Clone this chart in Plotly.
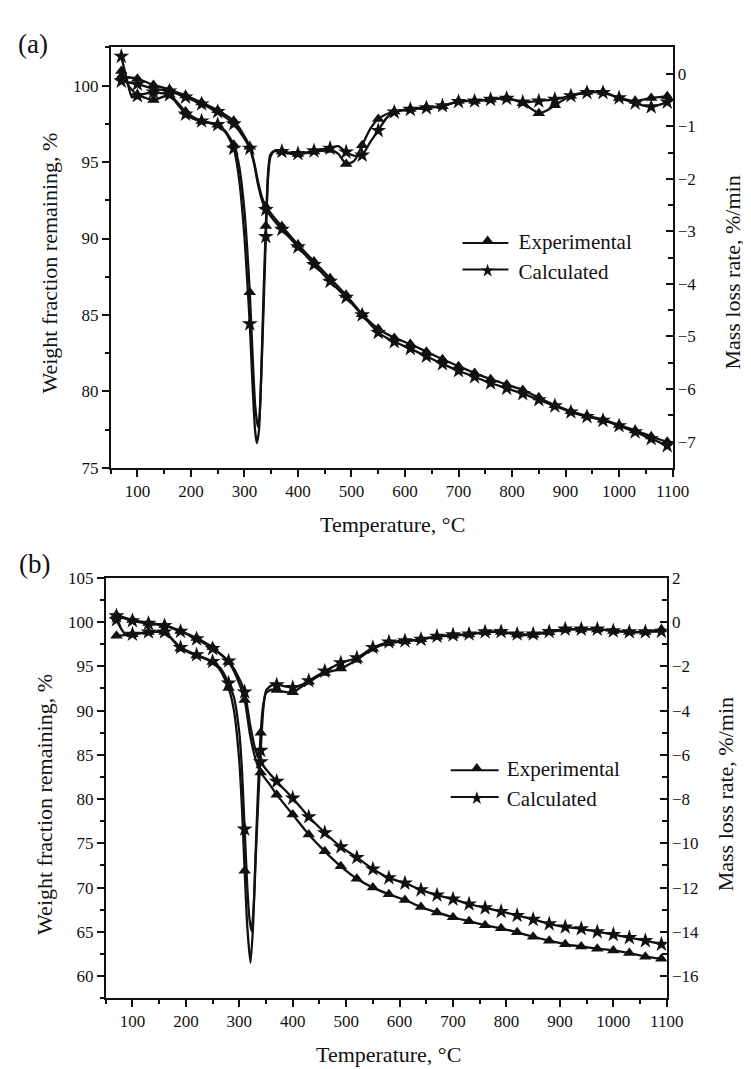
import plotly.graph_objects as go

W, H = 751, 1069
INK = "#111111"
FONT = "Liberation Serif"

# ---------------- data: panel (a) ----------------
MARKER_T = [70, 100, 130, 160, 190, 220, 250, 280, 310, 340, 370, 400, 430, 460, 490,
            520, 550, 580, 610, 640, 670, 700, 730, 760, 790, 820, 850, 880, 910, 940,
            970, 1000, 1030, 1060, 1090]

a_tg_exp_T = [70, 100, 130, 160, 190, 220, 250, 280, 295, 310, 318, 325, 332, 340, 355, 370,
              400, 430, 460, 490, 520, 550, 580, 610, 640, 670, 700, 730, 760, 790, 820,
              850, 880, 910, 940, 970, 1000, 1030, 1060, 1090]
a_tg_exp = [100.6, 100.45, 100.05, 99.75, 99.35, 98.9, 98.4, 97.7, 97.0, 96.0, 95.0, 93.8, 92.8,
            92.1, 91.4, 90.8, 89.6, 88.5, 87.4, 86.3, 85.05, 84.1, 83.5, 83.1, 82.6, 82.1,
            81.65, 81.2, 80.8, 80.45, 80.1, 79.6, 79.1, 78.7, 78.4, 78.15, 77.8, 77.45,
            77.05, 76.7]

a_tg_cal_T = a_tg_exp_T
a_tg_cal = [100.3, 100.1, 99.8, 99.65, 99.25, 98.8, 98.3, 97.5, 96.8, 95.9, 94.9, 93.6, 92.6,
            91.9, 91.2, 90.6, 89.45, 88.3, 87.2, 86.15, 85.0, 83.85, 83.25, 82.8, 82.3, 81.8,
            81.35, 80.95, 80.55, 80.2, 79.85, 79.45, 79.05, 78.65, 78.35, 78.1, 77.75, 77.35,
            76.9, 76.45]

a_dtg_exp_T = [70, 85, 100, 115, 130, 145, 160, 175, 190, 205, 220, 235, 250, 265, 280, 290,
               300, 305, 310, 315, 320, 325, 328, 332, 336, 340, 344, 348, 355, 370, 385, 400,
               415, 430, 445, 460, 475, 490, 505, 520, 535, 550, 565, 580, 610, 640, 670, 700,
               730, 760, 790, 820, 835, 850, 865, 880, 910, 940, 970, 1000, 1030, 1060, 1090]
a_dtg_exp = [0.05, -0.25, -0.40, -0.46, -0.50, -0.45, -0.40, -0.55, -0.72, -0.83, -0.90, -0.93,
             -0.97, -1.10, -1.35, -1.75, -2.6, -3.3, -4.16, -5.3, -6.3, -6.72, -6.55, -5.5,
             -4.1, -2.9, -1.9, -1.55, -1.47, -1.48, -1.52, -1.53, -1.51, -1.48, -1.47, -1.45,
             -1.52, -1.72, -1.66, -1.36, -1.05, -0.86, -0.77, -0.72, -0.67, -0.64, -0.62,
             -0.52, -0.52, -0.49, -0.46, -0.56, -0.66, -0.75, -0.70, -0.60, -0.42, -0.35,
             -0.35, -0.46, -0.52, -0.46, -0.43]

a_dtg_cal_T = [70, 80, 90, 100, 115, 130, 145, 160, 175, 190, 205, 220, 235, 250, 265, 280, 290,
               300, 305, 310, 315, 320, 323, 327, 331, 336, 340, 344, 348, 355, 370, 385, 400,
               415, 430, 445, 460, 475, 490, 505, 520, 535, 550, 565, 580, 610, 640, 670, 700,
               730, 760, 790, 820, 850, 880, 910, 940, 970, 1000, 1030, 1060, 1090]
a_dtg_cal = [0.33, -0.10, -0.45, -0.42, -0.38, -0.35, -0.37, -0.40, -0.58, -0.77, -0.86, -0.90,
             -0.94, -0.97, -1.12, -1.42, -2.0, -3.1, -3.9, -4.76, -5.9, -6.8, -7.03, -6.8,
             -5.9, -4.4, -3.1, -2.0, -1.6, -1.48, -1.48, -1.50, -1.52, -1.50, -1.47, -1.44,
             -1.42, -1.38, -1.49, -1.56, -1.55, -1.30, -1.08, -0.85, -0.73, -0.68, -0.65,
             -0.61, -0.53, -0.52, -0.49, -0.47, -0.54, -0.52, -0.49, -0.42, -0.36, -0.36,
             -0.46, -0.56, -0.63, -0.54]

# ---------------- data: panel (b) ----------------
b_tg_exp_T = [70, 100, 130, 160, 190, 220, 250, 280, 295, 310, 320, 330, 340, 355, 370, 400,
              430, 460, 490, 520, 550, 580, 610, 640, 670, 700, 730, 760, 790, 820, 850, 880,
              910, 940, 970, 1000, 1030, 1060, 1090]
b_tg_exp = [100.8, 100.25, 99.9, 99.65, 99.0, 98.2, 97.15, 95.5, 93.8, 91.2, 87.3, 84.6, 83.0,
            81.8, 80.5, 78.25, 76.0, 74.1, 72.4, 71.0, 70.0, 69.25, 68.6, 67.8, 67.2, 66.65,
            66.2, 65.75, 65.4, 64.95, 64.45, 64.0, 63.6, 63.35, 63.1, 62.9, 62.6, 62.2, 61.95]

b_tg_cal_T = b_tg_exp_T
b_tg_cal = [100.7, 100.15, 99.85, 99.6, 98.95, 98.1, 97.0, 95.6, 94.2, 92.1, 88.5, 85.6, 84.2,
            83.0, 82.0, 80.1, 78.0, 76.2, 74.6, 73.4, 72.1, 71.1, 70.5, 69.75, 69.15, 68.7,
            68.15, 67.7, 67.3, 66.85, 66.4, 65.9, 65.55, 65.35, 65.0, 64.7, 64.35, 64.0, 63.6]

b_dtg_exp_T = [70, 100, 130, 160, 190, 220, 250, 265, 280, 290, 300, 305, 310, 315, 321, 326,
               330, 335, 340, 345, 350, 360, 370, 385, 400, 415, 430, 460, 490, 520, 550, 580,
               610, 640, 670, 700, 730, 760, 790, 820, 850, 880, 910, 940, 970, 1000, 1030,
               1060, 1090]
b_dtg_exp = [-0.62, -0.55, -0.45, -0.45, -1.19, -1.51, -1.80, -2.2, -2.98, -4.0, -6.3, -8.4,
             -11.24, -13.8, -15.4, -13.6, -10.8, -7.6, -5.0, -3.7, -3.2, -3.05, -3.07, -3.15,
             -3.17, -2.95, -2.7, -2.3, -2.1, -1.7, -1.21, -0.95, -0.86, -0.78, -0.66, -0.60,
             -0.56, -0.46, -0.45, -0.56, -0.58, -0.46, -0.34, -0.33, -0.33, -0.40, -0.45,
             -0.45, -0.33]

b_dtg_cal_T = [70, 85, 100, 130, 160, 190, 220, 250, 265, 280, 290, 300, 305, 310, 315, 319,
               323, 327, 331, 335, 340, 345, 350, 360, 370, 385, 400, 415, 430, 460, 490, 520,
               550, 580, 610, 640, 670, 700, 730, 760, 790, 820, 850, 880, 910, 940, 970, 1000,
               1030, 1060, 1090]
b_dtg_cal = [0.1, -0.5, -0.55, -0.45, -0.45, -1.15, -1.48, -1.78, -2.1, -2.76, -3.4, -5.0, -6.7,
             -9.36, -12.0, -13.4, -13.96, -12.8, -10.5, -8.3, -5.8, -3.9, -3.1, -2.86, -2.84,
             -2.9, -2.96, -2.85, -2.65, -2.22, -1.84, -1.62, -1.15, -0.9, -0.85, -0.78, -0.64,
             -0.58, -0.54, -0.44, -0.43, -0.54, -0.54, -0.43, -0.32, -0.32, -0.32, -0.40,
             -0.44, -0.44, -0.42]

X_TICKS = [100, 200, 300, 400, 500, 600, 700, 800, 900, 1000, 1100]
LEGEND_NAMES = ["Experimental", "Calculated"]
SYMBOLS = ["triangle-up", "star"]
SIZES = [11, 12]


def px_x(p):
    return p / W


def px_y(p):
    return 1 - p / H


fig = go.Figure()


def add_series(T, V, xa, ya, k):
    fig.add_trace(go.Scatter(x=T, y=V, mode="lines", xaxis=xa, yaxis=ya,
                             line=dict(color=INK, width=2.3, shape="spline", smoothing=0.6),
                             showlegend=False, hoverinfo="skip"))
    mt = [t for t in T if t in MARKER_T]
    mv = [v for t, v in zip(T, V) if t in MARKER_T]
    fig.add_trace(go.Scatter(x=mt, y=mv, mode="markers", xaxis=xa, yaxis=ya,
                             marker=dict(symbol=SYMBOLS[k], size=SIZES[k], color=INK,
                                         line=dict(width=0)),
                             showlegend=False, hoverinfo="skip"))


add_series(a_tg_exp_T, a_tg_exp, "x", "y", 0)
add_series(a_tg_cal_T, a_tg_cal, "x", "y", 1)
add_series(a_dtg_exp_T, a_dtg_exp, "x", "y2", 0)
add_series(a_dtg_cal_T, a_dtg_cal, "x", "y2", 1)
add_series(b_tg_exp_T, b_tg_exp, "x2", "y3", 0)
add_series(b_tg_cal_T, b_tg_cal, "x2", "y3", 1)
add_series(b_dtg_exp_T, b_dtg_exp, "x2", "y4", 0)
add_series(b_dtg_cal_T, b_dtg_cal, "x2", "y4", 1)

for lg, xa, ya in [("legend", "x", "y"), ("legend2", "x2", "y3")]:
    for k in range(2):
        fig.add_trace(go.Scatter(x=[None], y=[None], mode="markers", name=LEGEND_NAMES[k],
                                 xaxis=xa, yaxis=ya, legend=lg,
                                 marker=dict(symbol=SYMBOLS[k], size=10, color=INK)))

tickfont = dict(family=FONT, size=17, color=INK)
common_x = dict(range=[50, 1100], tickvals=X_TICKS, ticks="outside", ticklen=7, tickwidth=1.5,
                tickcolor=INK, showline=True, linecolor=INK, linewidth=1.5, mirror=True,
                showgrid=False, zeroline=False, tickfont=tickfont,
                minor=dict(ticks="outside", ticklen=4, tickwidth=1.5, tickcolor=INK, dtick=50,
                           tick0=50, showgrid=False))


def yl(rng, dt, mdt):
    return dict(range=rng, dtick=dt, tick0=0, ticks="outside", ticklen=7, tickwidth=1.5,
                tickcolor=INK, showline=True, linecolor=INK, linewidth=1.5, showgrid=False,
                zeroline=False, tickfont=tickfont,
                minor=dict(ticks="outside", ticklen=4, tickwidth=1.5, tickcolor=INK,
                           dtick=mdt, showgrid=False))


def yr(rng, dt, mdt, ov, anch):
    return dict(range=rng, dtick=dt, tick0=0, ticks="inside", ticklen=7, tickwidth=1.5,
                tickcolor=INK, showline=True, linecolor=INK, linewidth=1.5, showgrid=False,
                zeroline=False, tickfont=tickfont, overlaying=ov, side="right", anchor=anch,
                minor=dict(ticks="inside", ticklen=5, tickwidth=1.5, tickcolor=INK,
                           dtick=mdt, showgrid=False))


top_dom_x = [px_x(105), px_x(680)]
top_dom_y = [px_y(459), px_y(31)]
bot_dom_x = [px_x(100), px_x(674)]
bot_dom_y = [px_y(999), px_y(571)]

legfont = dict(family=FONT, size=21, color=INK)
fig.update_layout(
    width=W, height=H, autosize=False,
    margin=dict(l=0, r=0, t=0, b=0),
    paper_bgcolor="white", plot_bgcolor="white",
    font=dict(family=FONT, color=INK),
    xaxis=dict(domain=top_dom_x, anchor="y", **common_x),
    yaxis=dict(domain=top_dom_y, anchor="x", **yl([75, 102.5], 5, 2.5)),
    yaxis2=yr([-7.5, 0.5], 1, 0.5, "y", "x"),
    xaxis2=dict(domain=bot_dom_x, anchor="y3", **common_x),
    yaxis3=dict(domain=bot_dom_y, anchor="x2", **yl([57.5, 105], 5, 2.5)),
    yaxis4=yr([-17, 2], 2, 1, "y3", "x2"),
    legend=dict(x=px_x(459), y=px_y(207), xanchor="left", yanchor="top",
                bgcolor="rgba(0,0,0,0)", font=legfont, itemwidth=52, tracegroupgap=0),
    legend2=dict(x=px_x(449), y=px_y(744), xanchor="left", yanchor="top",
                 bgcolor="rgba(0,0,0,0)", font=legfont, itemwidth=50, tracegroupgap=0),
    showlegend=True,
)

# legend key lines (longer than plotly's fixed legend stub)
shapes = []
for (x0, x1, ys) in [(465, 512, [230, 257]), (453, 502, [767, 794])]:
    for yy in ys:
        shapes.append(dict(type="line", xref="paper", yref="paper",
                           x0=px_x(x0), x1=px_x(x1), y0=px_y(yy), y1=px_y(yy),
                           line=dict(color=INK, width=2)))
fig.update_layout(shapes=shapes)

ann = []


def add_text(text, x, y, size, angle=0):
    ann.append(dict(text=text, x=px_x(x), y=px_y(y), xref="paper", yref="paper",
                    showarrow=False, xanchor="center", yanchor="middle", textangle=angle,
                    font=dict(family=FONT, size=size, color=INK)))


add_text("(a)", 26, 27, 27)
add_text("(b)", 27, 557, 27)
add_text("Temperature, °C", 393, 517, 22)
add_text("Temperature, °C", 389, 1056, 22)
add_text("Weight fraction remaining, %", 43, 251, 22, -90)
add_text("Weight fraction remaining, %", 38, 802, 22, -90)
add_text("Mass loss rate, %/min", 741, 260, 22, -90)
add_text("Mass loss rate, %/min", 735, 791, 22, -90)
fig.update_layout(annotations=ann)

fig.write_html("out.html")
